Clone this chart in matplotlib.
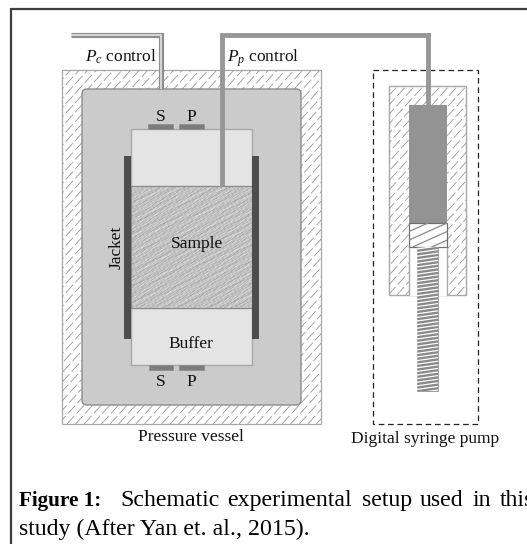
import numpy as np
import matplotlib
matplotlib.use('Agg')
import matplotlib.pyplot as plt
from matplotlib.patches import Rectangle, FancyBboxPatch

plt.rcParams['font.family'] = ['Liberation Serif', 'DejaVu Serif']
plt.rcParams['mathtext.fontset'] = 'custom'
plt.rcParams['mathtext.rm'] = 'Liberation Serif'
plt.rcParams['mathtext.it'] = 'Liberation Serif:italic'

# geometry, as x0, y0, x1, y1 in picture pixels
vessel_outer = (62, 70, 321, 424)
vessel_inner = (82, 89, 301, 405)
buffer_top = (131, 129, 252, 186)
sample_box = (131, 186, 252, 308)
buffer_bottom = (131, 308, 252, 365)
jackets = [(124, 156, 131, 339), (252, 156, 259, 339)]
sensors = [(148, 124, 173, 129), (179, 124, 204, 129), (149, 365, 173, 370), (179, 365, 204, 370)]
pump_box = (373, 70, 478, 424)
pump_body = (389, 86, 466, 295)
pump_bore = (409, 105, 447, 295)
pump_fluid = (409, 105, 447, 223)
pump_piston = (409, 223, 447, 247)
pump_screw = (417, 247, 438, 391)
pc_tube_x = [71, 160.5, 160.5]
pc_tube_y = [34.5, 34.5, 89]
pp_tube_x = [221.5, 221.5, 427.5, 427.5]
pp_tube_y = [186, 34.5, 34.5, 105]

labels = ['S', 'P', 'S', 'P']
label_xy = [(161, 121), (191, 121), (161, 386), (191, 386)]
caption_words = ['Schematic', 'experimental', 'setup', 'used', 'in', 'this']
caption_x = [120, 227, 362, 420, 473, 500]

# grain of the rock sample: wave numbers (cycles per pixel) and phases
grain_fx = [0.13, 0.21, 0.27, 0.09, 0.33, 0.19, 0.07, 0.24, 0.38, 0.16]
grain_fy = [0.23, 0.31, 0.41, 0.19, 0.29, 0.11, 0.13, -0.09, 0.47, 0.37]
grain_ph = [0.3, 1.7, 2.9, 4.1, 5.3, 0.9, 2.2, 3.6, 4.8, 1.2]

fig = plt.figure(figsize=(5.27, 5.44), dpi=100)
ax = fig.add_axes([0, 0, 1, 1])
ax.set_xlim(0, 527)
ax.set_ylim(544, 0)
ax.axis('off')


def rect(b, fc='none', ec='none', lw=1.0, z=2, **kw):
    p = Rectangle((b[0], b[1]), b[2] - b[0], b[3] - b[1], fc=fc, ec=ec, lw=lw, zorder=z, **kw)
    ax.add_patch(p)
    return p


def slant_lines(clip, box, step, slope, color, lw, z, ls='-'):
    """Parallel strokes rising to the right, clipped to a patch."""
    x0, y0, x1, y1 = box
    h = y1 - y0
    for c in np.arange(x0 - h / slope, x1 + h / slope, step):
        l, = ax.plot([c, c + h / slope], [y1, y0], color=color, lw=lw, ls=ls, zorder=z,
                     solid_capstyle='butt')
        l.set_clip_path(clip)


# frame
ax.plot([11, 11], [544, 8], color='#3c3c3c', lw=1.6, solid_capstyle='butt', zorder=1)
ax.plot([11, 527], [9, 9], color='#3c3c3c', lw=1.6, solid_capstyle='butt', zorder=1)

# vessel
outer = rect(vessel_outer, fc='white', ec='#a8a8a8', lw=0.9, z=2)
slant_lines(outer, vessel_outer, 8.6, 1.1, '#979797', 0.6, 3, ls=(0, (13, 4)))
x0, y0, x1, y1 = vessel_inner
inner = FancyBboxPatch((x0 + 5, y0 + 5), x1 - x0 - 10, y1 - y0 - 10,
                       boxstyle='round,pad=5,rounding_size=5', fc='#cbcbcb', ec='#8c8c8c', lw=1.0, zorder=4)
ax.add_patch(inner)

# core
rect(buffer_top, fc='#e4e4e4', ec='#a8a8a8', lw=1.0, z=5)
rect(buffer_bottom, fc='#e4e4e4', ec='#a8a8a8', lw=1.0, z=5)
xs = np.arange(sample_box[0], sample_box[2], 1.0)
ys = np.arange(sample_box[1], sample_box[3], 1.0)
gx, gy = np.meshgrid(xs, ys)
grain = np.zeros_like(gx)
for fx, fy, ph in zip(grain_fx, grain_fy, grain_ph):
    grain += np.sin(2 * np.pi * (fx * gx + fy * gy) + ph)
ax.imshow(193 + 5 * grain, cmap='gray', vmin=0, vmax=255, aspect='auto', interpolation='bilinear',
          extent=(sample_box[0], sample_box[2], sample_box[3], sample_box[1]), zorder=5.5)
ax.set_xlim(0, 527)
ax.set_ylim(544, 0)
rect(sample_box, ec='#8a8a8a', lw=0.8, z=6)
for b in jackets:
    rect(b, fc='#4d4d4d', z=6)
for b in sensors:
    rect(b, fc='#7c7c7c', ec='#8c8c8c', lw=0.5, z=6)

# tubes
ax.plot(pc_tube_x, pc_tube_y, color='#8e8e8e', lw=3.7, solid_joinstyle='miter', solid_capstyle='butt', zorder=7)
ax.plot(pc_tube_x, pc_tube_y, color='#dddddd', lw=1.3, solid_joinstyle='miter', solid_capstyle='butt', zorder=7.1)

# pump
rect(pump_box, ec='#222222', lw=0.9, z=2, ls=(0, (4.5, 3)))
body = rect(pump_body, fc='white', ec='#a8a8a8', lw=1.0, z=3)
slant_lines(body, pump_body, 8.6, 1.1, '#979797', 0.6, 3.1, ls=(0, (13, 4)))
rect((pump_bore[0], pump_piston[3], pump_bore[2], pump_body[3] + 1), fc='white', z=3.2)
ax.plot([pump_bore[0], pump_bore[0]], [pump_piston[3], pump_body[3]], color='#a8a8a8', lw=1.0, zorder=3.3)
ax.plot([pump_bore[2], pump_bore[2]], [pump_piston[3], pump_body[3]], color='#a8a8a8', lw=1.0, zorder=3.3)
rect(pump_fluid, fc='#939393', z=4)
pist = rect(pump_piston, fc='white', ec='#707070', lw=0.9, z=4)
slant_lines(pist, pump_piston, 19, 0.45, '#8a8a8a', 0.9, 4.1)
screw = rect(pump_screw, fc='#8a8a8a', ec='#999999', lw=0.6, z=4)
x0, y0, x1, y1 = pump_screw
for y in np.arange(y0 + 2, y1 + 6, 3.6):
    l, = ax.plot([x0, x1], [y, y - 3], color='white', lw=0.9, zorder=4.1, solid_capstyle='butt')
    l.set_clip_path(screw)

ax.plot(pp_tube_x, pp_tube_y, color='#979797', lw=3.5, solid_joinstyle='miter', solid_capstyle='butt', zorder=7)

# text
tk = dict(color='#111111', zorder=8)
fs = 12.5
for s, (x, y) in zip(labels, label_xy):
    ax.text(x, y, s, fontsize=fs, ha='center', va='baseline', **tk)
ax.text(196.5, 248, 'Sample', fontsize=fs, ha='center', va='baseline', **tk)
ax.text(191, 348, 'Buffer', fontsize=fs, ha='center', va='baseline', **tk)
ax.text(117, 247, 'Jacket', fontsize=fs, rotation=90, ha='center', va='center', **tk)
ax.text(85, 62, r'$\mathit{P}_{\mathit{c}}$ control', fontsize=fs, ha='left', va='baseline', **tk)
ax.text(227, 62, r'$\mathit{P}_{\mathit{p}}$ control', fontsize=fs, ha='left', va='baseline', **tk)
ax.text(191, 441, 'Pressure vessel', fontsize=fs, ha='center', va='baseline', **tk)
ax.text(425, 443, 'Digital syringe pump', fontsize=fs, ha='center', va='baseline', **tk)
cap = 17.2
ax.text(19, 506, 'Figure 1:', fontsize=15.2, fontweight='bold', ha='left', va='baseline', color='black')
for w, x in zip(caption_words, caption_x):
    ax.text(x, 506, w, fontsize=cap, ha='left', va='baseline', color='black')
ax.text(19, 535, 'study (After Yan et. al., 2015).', fontsize=cap, ha='left', va='baseline', color='black')

fig.savefig('out.png', dpi=100)
